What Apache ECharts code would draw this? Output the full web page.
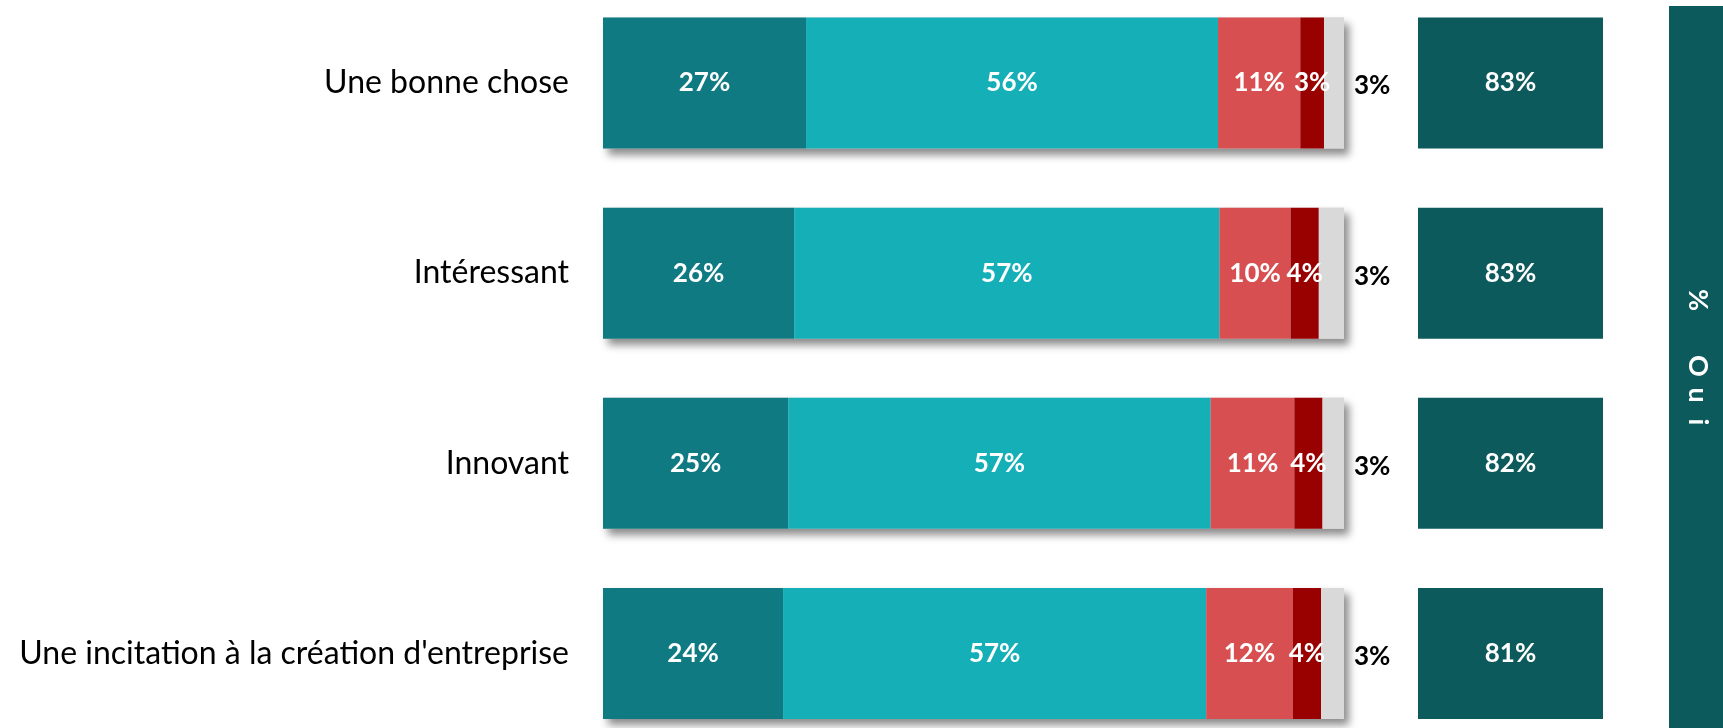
<!DOCTYPE html>
<html>
<head>
<meta charset="utf-8">
<script src="https://cdn.jsdelivr.net/npm/echarts@6/dist/echarts.min.js"></script>
<style>
	html, body { margin: 0; padding: 0; background: #fff; }
	#chart { width: 1723px; height: 728px; }
</style>
</head>
<body>
<div id="chart"></div>
<script>
	// categories, top to bottom
	var categories = ['Une bonne chose', 'Intéressant', 'Innovant', "Une incitation à la création d'entreprise"];

	// shares in %
	var tresBien = [27.4, 25.8, 25.0, 24.3];
	var plutotBien = [55.6, 57.4, 57.0, 57.1];
	var plutotPas = [11.1, 9.6, 11.3, 11.7];
	var pasDuTout = [3.2, 3.8, 3.8, 3.8];
	var nsp = [2.7, 3.4, 2.9, 3.1];

	// total "Oui" shown in the right boxes
	var oui = [83, 83, 82, 81];
	var bandText = ['%', 'O', 'u', 'i'];

	var font = 'Lato';
	var chart = echarts.init(document.getElementById('chart'));

	var totals = [];
	for (var i = 0; i < categories.length; i++) {
		totals.push(tresBien[i] + plutotBien[i] + plutotPas[i] + pasDuTout[i] + nsp[i]);
	};

	function pct(p) {
		return Math.round(p.value) + '%';
	};

	function segment(name, data, color) {
		return {
			name: name,
			type: 'bar',
			stack: 'total',
			data: data,
			barWidth: 131,
			itemStyle: { color: color },
			label: {
				show: true,
				position: 'inside',
				color: '#fff',
				fontFamily: font,
				fontWeight: 'bold',
				fontSize: 26,
				formatter: pct
			}
		};
	};

	var nspSerie = segment('NSP', nsp, '#d9d9d9');
	nspSerie.label.position = 'right';
	nspSerie.label.distance = 10;
	nspSerie.label.color = '#000';
	nspSerie.label.offset = [0, 3];

	// rows sit on the ticks (boundaryGap false), first row center 83, last 653.5
	var grids = [
		{ left: 603, width: 741, top: 83, bottom: 74.5, outerBoundsMode: 'none' },
		{ left: 1418, width: 185, top: 83, bottom: 74.5, outerBoundsMode: 'none' }
	];

	var bandItems = [{
		type: 'rect',
		shape: { x: 1669, y: 6, width: 54, height: 722 },
		style: { fill: '#0d5a5d' }
	}];
	var bandY = [300, 366, 395, 422];
	for (var j = 0; j < bandText.length; j++) {
		bandItems.push({
			type: 'text',
			x: 1698,
			y: bandY[j],
			rotation: -Math.PI / 2,
			style: {
				text: bandText[j],
				fill: '#fff',
				font: 'bold 27px ' + font,
				align: 'center',
				verticalAlign: 'middle'
			}
		});
	};

	var option = {
		backgroundColor: '#fff',
		animation: false,
		grid: grids,
		xAxis: [
			{ gridIndex: 0, type: 'value', min: 0, max: 100, show: false },
			{ gridIndex: 1, type: 'value', min: 0, max: 100, show: false }
		],
		yAxis: [{
			gridIndex: 0,
			type: 'category',
			inverse: true,
			boundaryGap: false,
			data: categories,
			axisLine: { show: false },
			axisTick: { show: false },
			splitLine: { show: false },
			axisLabel: {
				margin: 34,
				color: '#000',
				fontFamily: font,
				fontSize: 32
			}
		}, {
			gridIndex: 1,
			type: 'category',
			inverse: true,
			boundaryGap: false,
			data: categories,
			show: false
		}],
		graphic: bandItems,
		series: [{
			name: 'ombre',
			type: 'bar',
			data: totals,
			barWidth: 131,
			barGap: '-100%',
			silent: true,
			itemStyle: {
				color: '#d9d9d9',
				shadowColor: 'rgba(0,0,0,0.45)',
				shadowBlur: 8,
				shadowOffsetX: 5,
				shadowOffsetY: 6
			}
		},
			segment('Très bien', tresBien, '#0f7a82'),
			segment('Plutôt bien', plutotBien, '#14afb7'),
			segment('Plutôt pas', plutotPas, '#d84f51'),
			segment('Pas du tout', pasDuTout, '#990000'),
			nspSerie,
		{
			name: 'Oui',
			type: 'bar',
			xAxisIndex: 1,
			yAxisIndex: 1,
			data: oui.map(function () { return 100; }),
			barWidth: 131,
			itemStyle: { color: '#0d5a5d' },
			label: {
				show: true,
				position: 'inside',
				color: '#fff',
				fontFamily: font,
				fontWeight: 'bold',
				fontSize: 26,
				formatter: function (p) {
					return oui[p.dataIndex] + '%';
				}
			}
		}]
	};
	chart.setOption(option);
</script>
</body>
</html>
